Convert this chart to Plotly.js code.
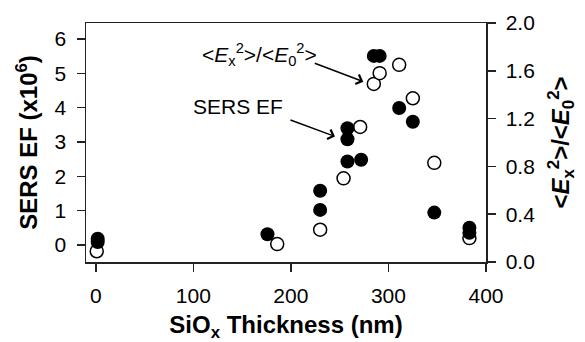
<!DOCTYPE html>
<html>
<head>
<meta charset="utf-8">
<script src="https://cdn.plot.ly/plotly-3.0.1.min.js"></script>
<style>
html,body{margin:0;padding:0;background:#fff;}
#chart{width:585px;height:342px;}
</style>
</head>
<body>
<div id="chart"></div>
<script>
// SiOx thickness (nm) for the open circles (<Ex^2>/<E0^2>, right axis)
var thicknessOpen = [1, 186, 230, 254, 271, 285, 291, 311, 325, 347, 383];
var fieldRatio = [0.09, 0.15, 0.27, 0.70, 1.13, 1.49, 1.58, 1.65, 1.37, 0.83, 0.20];

// SiOx thickness (nm) for the filled circles (SERS EF x10^6, left axis)
var thicknessFilled = [2, 2, 176, 230, 230, 258, 258, 258, 272, 285, 291, 311, 325, 347, 383, 383];
var sersEF = [0.18, 0.08, 0.31, 1.02, 1.58, 2.43, 3.08, 3.40, 2.48, 5.51, 5.51, 3.99, 3.59, 0.94, 0.50, 0.35];

var xTicks = [0, 100, 200, 300, 400];
var leftTicks = [0, 1, 2, 3, 4, 5, 6];
var rightTicks = [0, 0.4, 0.8, 1.2, 1.6, 2.0];
var rightTickText = ['0.0', '0.4', '0.8', '1.2', '1.6', '2.0'];

var FONT = 'Liberation Sans, Arial, sans-serif';
var LC = '#222';

var traces = [
  {
    x: thicknessOpen, y: fieldRatio, yaxis: 'y', type: 'scatter', mode: 'markers',
    marker: {symbol: 'circle', size: 13, color: '#fff', line: {color: '#000', width: 1.5}},
    hoverinfo: 'x+y'
  },
  {
    x: thicknessFilled, y: sersEF, yaxis: 'y2', type: 'scatter', mode: 'markers',
    marker: {symbol: 'circle', size: 14, color: '#000', line: {color: '#000', width: 0}},
    hoverinfo: 'x+y'
  }
];

var axCommon = {
  showgrid: false, zeroline: false, showline: true, linecolor: LC, linewidth: 1.5,
  ticks: 'outside', ticklen: 8, tickwidth: 1.5, tickcolor: LC,
  tickfont: {family: FONT, size: 21, color: '#000'}
};

var layout = {
  width: 585, height: 342,
  margin: {l: 86, r: 99, t: 23, b: 80, pad: 0},
  paper_bgcolor: '#fff', plot_bgcolor: '#fff',
  showlegend: false,
  xaxis: Object.assign({}, axCommon, {
    range: [-10, 400], tickvals: xTicks, mirror: true, ticklabelstandoff: 6,
    title: {text: 'SiO<sub>x</sub> Thickness (nm)', font: {family: FONT, size: 24, color: '#000', weight: 'bold'}, standoff: 10}
  }),
  yaxis: Object.assign({}, axCommon, {
    side: 'right', range: [0, 2.0], tickvals: rightTicks, ticktext: rightTickText, ticklabelstandoff: 6,
    title: {text: '&lt;<i>E</i><sub>x</sub><sup>2</sup>&gt;/&lt;<i>E</i><sub>0</sub><sup>2</sup>&gt;', font: {family: FONT, size: 24, color: '#000', weight: 'bold'}, standoff: 18}
  }),
  yaxis2: Object.assign({}, axCommon, {
    side: 'left', overlaying: 'y', range: [-0.5, 6.47], tickvals: leftTicks, ticklabelstandoff: 6,
    title: {text: 'SERS EF (x10<sup>6</sup>)', font: {family: FONT, size: 24, color: '#000', weight: 'bold'}, standoff: 10}
  }),
  annotations: [
    {xref: 'x', yref: 'y2', x: 146, y: 4.03, text: 'SERS EF', showarrow: false,
     font: {family: FONT, size: 21, color: '#000'}, xanchor: 'center', yanchor: 'middle'},
    {xref: 'x', yref: 'y2', x: 167.5, y: 5.54,
     text: '&lt;<i>E</i><sub>x</sub><sup>2</sup>&gt;/&lt;<i>E</i><sub>0</sub><sup>2</sup>&gt;', showarrow: false,
     font: {family: FONT, size: 21, color: '#000'}, xanchor: 'center', yanchor: 'middle'},
    {xref: 'x', yref: 'y2', x: 245.2, y: 3.16, text: '', showarrow: true, ax: -46, ay: -17,
     arrowhead: 4, arrowsize: 1.3, arrowwidth: 1.5, arrowcolor: '#000', standoff: 0},
    {xref: 'x', yref: 'y2', x: 274.2, y: 4.76, text: '', showarrow: true, ax: -50, ay: -19,
     arrowhead: 4, arrowsize: 1.3, arrowwidth: 1.5, arrowcolor: '#000', standoff: 0}
  ]
};

Plotly.newPlot('chart', traces, layout, {displayModeBar: false, staticPlot: true});
</script>
</body>
</html>
